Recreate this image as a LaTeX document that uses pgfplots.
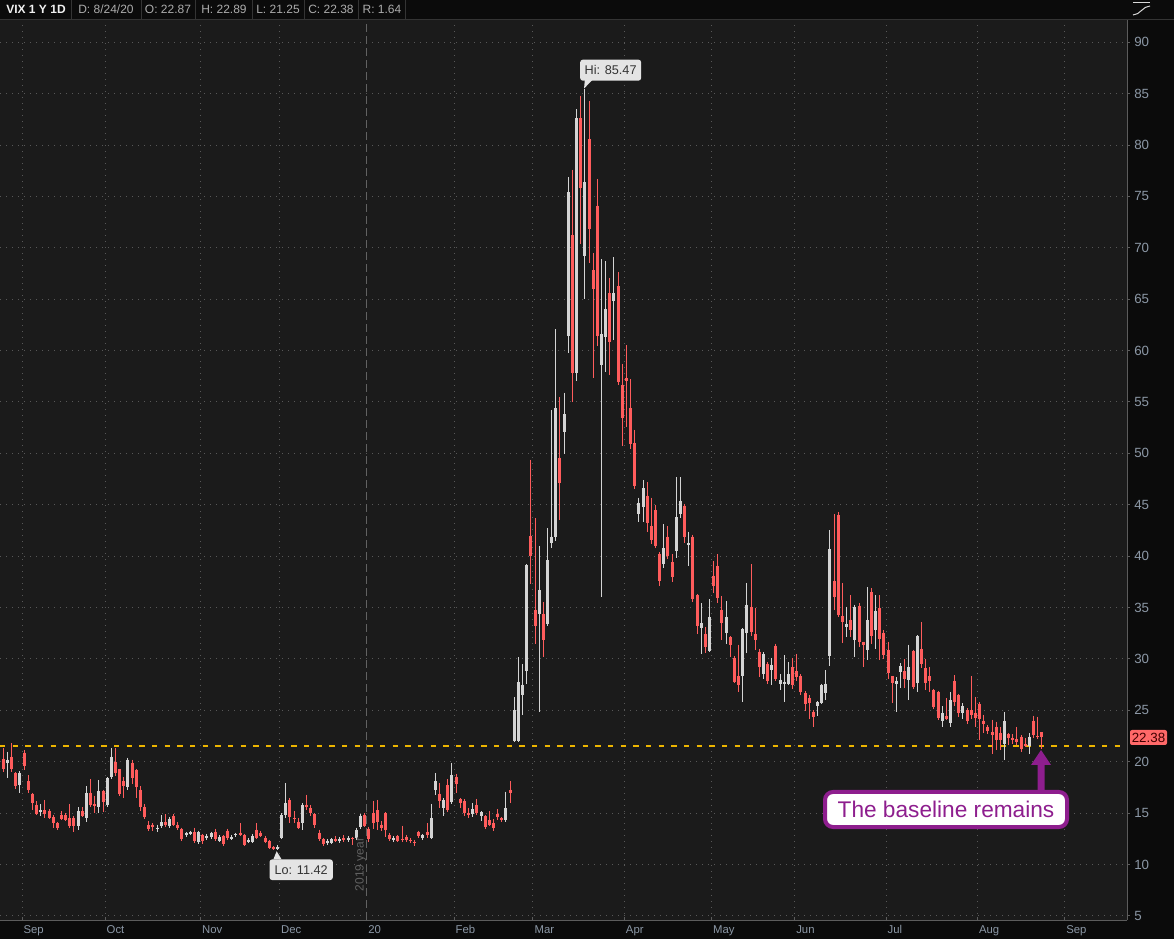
\documentclass[border=0pt]{standalone}
\usepackage{fontspec}
\setmainfont{Liberation Sans}
\usepackage{pgfplots}
\usepackage{pgfplotstable}
\pgfplotsset{compat=1.18}

\definecolor{outerbg}{RGB}{11,11,11}
\definecolor{plotbg}{RGB}{27,27,27}
\definecolor{gridc}{RGB}{88,88,88}
\definecolor{axisc}{RGB}{92,92,92}
\definecolor{upc}{RGB}{212,212,212}
\definecolor{dnc}{RGB}{255,92,92}
\definecolor{goldline}{rgb}{0.93,0.71,0.0}
\definecolor{tickc}{RGB}{140,152,166}
\definecolor{hdrtxt}{RGB}{172,172,172}
\definecolor{hdrline}{RGB}{52,52,52}
\definecolor{yearc}{RGB}{98,98,98}
\definecolor{purp}{RGB}{142,30,142}
\definecolor{callbg}{RGB}{228,228,228}

% VIX daily candles, trading-day index (0 = 3 Sep 2019, 245 = 24 Aug 2020)
\pgfplotstableread{
i o h l c
-5 20.3 21.3 19.0 19.3
-4 19.9 21.0 18.4 20.2
-3 20.5 21.8 19.0 19.3
-2 18.9 19.0 17.4 17.6
-1 17.7 19.1 17.0 18.9
0 20.9 21.1 19.2 19.6
1 18.1 18.7 17.0 17.3
2 16.9 17.0 15.3 16.0
3 15.8 16.2 14.8 14.9
4 15.1 15.9 14.7 15.3
5 15.3 16.3 14.5 14.9
6 15.2 15.4 14.4 14.5
7 14.6 14.8 13.6 14.0
8 14.0 14.1 13.4 13.6
9 14.8 15.2 14.3 14.4
10 14.8 15.0 14.2 14.3
11 14.5 15.9 13.6 13.8
12 14.5 14.7 13.2 13.8
13 13.8 15.6 13.4 15.2
14 15.2 15.6 14.6 14.7
15 14.5 17.6 14.1 17.0
16 17.0 18.3 15.6 15.8
17 15.9 16.7 15.0 15.7
18 15.6 18.2 15.0 17.2
19 17.2 17.3 15.1 16.1
20 15.8 18.5 15.6 18.4
21 18.5 21.3 18.3 20.5
22 20.0 21.3 18.6 18.9
23 19.3 19.3 16.7 16.9
24 18.1 18.5 16.5 17.6
25 17.5 20.4 17.3 20.2
26 19.9 20.2 17.8 18.4
27 19.2 19.3 16.5 17.5
28 17.3 17.6 15.2 15.6
29 15.6 15.9 14.4 14.6
30 13.9 14.2 13.3 13.5
31 13.9 14.0 13.3 13.7
32 13.5 13.9 13.2 13.6
33 13.8 14.8 13.6 14.1
34 14.1 14.9 13.7 13.9
35 13.8 14.6 13.6 14.4
36 14.7 14.9 13.8 13.9
37 13.9 14.1 13.4 13.6
38 13.5 13.6 12.3 12.5
39 12.9 13.2 12.7 13.1
40 13.0 13.3 12.9 13.2
41 13.2 13.6 12.1 12.3
42 12.2 13.3 12.0 13.2
43 12.9 13.0 12.0 12.3
44 12.6 13.0 12.4 12.8
45 12.7 13.2 12.5 13.1
46 13.2 13.5 12.3 12.5
47 12.3 12.9 12.2 12.7
48 12.8 12.9 11.8 12.0
49 13.3 13.5 12.4 12.6
50 12.5 12.9 12.4 12.7
51 12.9 13.1 12.7 13.0
52 13.1 14.0 12.8 12.9
53 12.9 13.0 11.8 11.9
54 12.2 12.6 12.1 12.4
55 12.2 13.0 12.1 12.8
56 13.4 14.0 12.5 12.6
57 13.1 13.3 12.7 12.8
58 12.6 12.8 12.1 12.2
59 12.3 12.4 11.5 11.6
60 11.7 11.8 11.42 11.5
61 11.5 11.9 11.42 11.7
62 12.6 15.0 12.5 14.8
63 14.8 17.9 14.5 16.0
64 16.3 16.5 14.0 14.6
65 14.5 15.2 14.0 14.4
66 14.1 14.5 13.5 13.6
67 14.0 16.0 13.4 15.8
68 15.8 16.8 15.3 15.6
69 15.5 15.8 14.7 15.0
70 14.9 15.0 13.6 13.9
71 13.1 13.4 12.3 12.5
72 12.5 12.6 11.8 12.0
73 12.1 12.5 11.9 12.3
74 12.1 12.6 12.0 12.5
75 12.5 12.8 12.2 12.3
76 12.3 12.7 12.1 12.5
77 12.6 12.9 12.2 12.4
78 12.4 12.8 12.2 12.6
79 12.6 12.7 11.9 12.5
80 12.6 13.6 12.4 13.4
81 13.7 14.9 13.5 14.7
82 14.8 15.0 13.7 13.8
83 13.5 13.7 12.2 12.5
84 15.0 16.2 13.5 14.0
85 15.3 16.3 13.4 14.1
86 13.9 14.2 13.3 13.6
87 15.0 15.1 12.7 13.4
88 12.9 13.1 12.3 12.5
89 12.4 12.8 12.2 12.6
90 12.8 12.9 12.2 12.3
91 12.5 13.8 12.2 12.4
92 12.7 12.9 12.2 12.4
93 12.4 12.6 12.1 12.3
94 12.2 12.4 11.8 12.1
95 13.2 13.3 12.6 12.8
96 12.6 13.0 12.4 12.9
97 13.2 14.0 12.6 12.9
98 12.6 15.9 12.5 14.5
99 17.3 18.9 16.8 18.1
100 16.9 17.9 15.5 16.2
101 15.5 16.5 14.7 16.3
102 17.7 18.3 15.1 15.3
103 16.1 19.9 15.9 18.7
104 18.5 18.8 17.0 17.8
105 16.4 16.5 15.5 16.0
106 16.2 16.4 14.7 15.0
107 15.0 15.5 14.5 14.8
108 14.9 16.0 14.6 15.4
109 15.8 16.4 14.8 15.0
110 14.7 15.2 14.2 15.1
111 14.7 14.8 13.5 13.7
112 14.3 15.2 13.8 13.9
113 14.0 14.4 13.3 13.6
114 14.9 15.4 14.3 14.6
115 14.5 14.6 14.1 14.3
116 14.3 17.1 14.1 15.5
117 17.3 18.1 16.0 17.0
118 22.0 26.3 21.9 25.0
119 22.0 30.2 21.9 27.8
120 26.5 29.5 24.6 27.5
121 28.8 39.2 27.6 39.1
122 42.0 49.4 37.3 40.0
123 34.8 43.7 31.5 33.2
124 34.4 41.0 24.8 36.7
125 34.4 35.5 30.2 31.8
126 33.4 42.7 33.2 39.6
127 41.3 54.2 40.8 41.9
128 41.9 62.1 41.5 54.4
129 49.6 55.5 43.5 47.1
130 52.1 55.9 49.9 53.8
131 61.4 76.9 59.8 75.4
132 71.2 77.6 55.0 57.8
133 57.8 83.5 57.0 82.6
134 82.6 84.8 70.4 75.8
135 69.2 85.47 65.0 76.4
136 80.6 84.3 68.5 71.8
137 67.8 69.5 57.3 66.0
138 74.1 76.7 60.4 61.4
139 58.6 68.9 36.0 61.6
140 61.3 68.7 57.9 64.0
141 65.6 67.1 57.6 60.8
142 64.8 69.1 61.0 65.6
143 66.3 67.6 56.7 56.9
144 56.7 58.7 50.7 53.4
145 57.3 60.5 52.6 57.0
146 54.4 57.2 50.4 50.9
147 51.0 52.3 46.5 46.8
148 44.1 45.7 43.3 45.2
149 44.8 47.4 43.3 46.6
150 45.9 47.2 42.4 43.2
151 42.9 45.7 41.2 41.6
152 44.5 45.0 40.8 41.0
153 40.2 40.4 37.1 37.6
154 39.2 43.1 38.9 40.8
155 41.9 42.9 39.7 40.0
156 39.4 40.2 37.5 38.0
157 40.5 47.7 39.8 43.8
158 44.1 47.7 43.7 45.4
159 44.9 45.1 41.3 41.9
160 41.1 42.4 39.0 41.3
161 41.9 42.1 35.5 35.8
162 36.2 36.3 32.4 33.2
163 33.0 35.4 30.5 33.5
164 32.4 33.1 30.6 31.2
165 30.8 35.8 30.7 34.1
166 38.1 39.5 36.4 37.1
167 39.0 40.2 35.4 35.9
168 34.8 36.1 31.8 33.5
169 32.5 35.6 31.5 34.1
170 32.1 32.2 30.2 31.4
171 30.1 30.3 27.7 27.8
172 28.3 31.4 26.8 27.5
173 28.3 33.0 25.8 32.9
174 32.5 37.4 30.6 35.3
175 35.1 39.2 32.2 32.6
176 32.4 35.0 30.9 31.8
177 30.7 31.0 28.2 29.2
178 28.5 30.7 28.1 30.5
179 29.5 29.7 27.6 27.9
180 28.9 30.1 27.5 29.4
181 31.3 31.5 27.9 28.1
182 27.6 28.5 27.0 28.0
183 27.6 30.4 25.8 27.8
184 27.6 29.7 27.5 28.5
185 29.2 30.1 27.1 27.5
186 28.8 30.5 27.9 28.2
187 28.3 28.5 26.5 26.8
188 26.7 26.9 24.9 25.6
189 26.2 26.5 24.2 25.7
190 24.8 25.0 23.4 24.4
191 25.4 25.9 24.5 25.8
192 25.7 27.6 25.6 27.5
193 26.7 28.9 26.0 27.6
194 30.3 42.5 29.3 40.7
195 37.6 44.1 34.8 36.0
196 44.0 44.3 34.1 34.3
197 34.2 37.4 31.6 33.6
198 33.1 35.1 32.1 33.4
199 33.8 36.2 32.1 32.8
200 31.8 35.3 30.2 35.1
201 35.2 35.4 31.2 31.7
202 31.7 31.7 29.2 31.4
203 30.9 37.0 29.9 33.8
204 36.5 36.9 31.5 32.2
205 32.8 36.2 31.0 34.7
206 35.0 36.2 29.9 31.9
207 32.5 32.8 30.0 30.4
208 30.9 31.7 28.1 28.6
209 28.3 28.3 25.7 27.7
210 27.6 28.2 24.8 27.9
211 28.7 29.6 27.2 29.3
212 28.8 30.0 27.2 28.1
213 28.0 31.4 26.0 29.2
214 30.8 30.9 27.1 27.3
215 27.7 32.3 26.8 32.2
216 31.0 33.6 29.1 29.5
217 29.1 30.0 27.0 27.7
218 28.3 29.2 26.8 27.9
219 27.0 27.1 25.1 25.3
220 26.8 26.9 24.1 24.3
221 24.0 25.4 23.4 24.7
222 24.5 26.2 24.1 24.2
223 23.8 26.8 23.4 26.0
224 27.9 28.4 25.4 25.8
225 26.5 26.6 24.4 24.7
226 24.7 25.7 24.2 25.4
227 25.0 25.2 23.7 24.0
228 25.0 28.3 24.2 24.6
229 24.7 26.3 23.4 24.3
230 25.6 25.8 22.1 24.2
231 24.0 24.6 22.8 23.7
232 23.4 23.6 22.7 23.0
233 22.9 24.1 20.8 22.6
234 23.4 23.9 21.1 22.1
235 22.8 23.4 21.1 22.1
236 21.7 24.8 20.2 24.0
237 22.7 22.8 21.6 22.3
238 22.3 22.7 21.7 22.1
239 22.2 23.4 21.6 21.9
240 22.4 22.6 21.0 21.2
241 21.7 22.3 21.4 21.5
242 21.5 22.8 20.8 22.4
243 24.0 24.5 22.3 22.6
244 22.5 24.4 22.2 22.4
245 22.87 22.89 21.25 22.38
}\vix

\begin{document}
\begin{tikzpicture}
\useasboundingbox (0,0) rectangle (880.5pt,704.25pt);
\fill[outerbg] (0,0) rectangle (880.5pt,704.25pt);

\begin{axis}[
  at={(0pt,14.25pt)}, anchor=south west,
  width=845.25pt, height=675pt, scale only axis,
  xmin=-5.8, xmax=265.5, ymin=4.61, ymax=92.16,
  axis background/.style={fill=plotbg},
  axis x line*=bottom, axis y line*=right,
  axis line style={draw=axisc, line width=0.75pt, -},
  xtick={-0.5,19.5,42.5,61.5,82.5,103.5,122.5,144.5,165.5,185.5,207.5,229.5,250.5},
  xticklabels={Sep,Oct,Nov,Dec,20,Feb,Mar,Apr,May,Jun,Jul,Aug,Sep},
  ytick={5,10,...,90},
  tick style={draw=axisc, line width=0.75pt},
  xtick align=inside, ytick align=outside,
  major tick length=2.25pt,
  xmajorgrids, ymajorgrids,
  major grid style={draw=gridc, line width=0.75pt, dash pattern=on 0.75pt off 3.75pt},
  xticklabel style={font=\fontsize{8.5}{10}\selectfont, text=tickc, anchor=north west, inner sep=0pt, yshift=-4pt, xshift=1pt},
  yticklabel style={font=\fontsize{10}{12}\selectfont, text=tickc, anchor=west, inner sep=0pt, xshift=3pt},
  /pgf/number format/assume math mode=true,
]
% baseline level (drawn first, under the candles)
\addplot[color=goldline, line width=1pt, dash pattern=on 4pt off 5.5pt, mark=none, forget plot]
  coordinates {(-5.8,21.55) (265.5,21.55)};

% wicks
\addplot[draw=none, mark=none, forget plot,
  restrict expr to domain={\thisrow{c}-\thisrow{o}}{0:1000},
  error bars/.cd, y dir=minus, y explicit, error mark=none,
  error bar style={draw=upc, line width=0.75pt}]
  table[x=i, y=h, y error minus expr=\thisrow{h}-\thisrow{l}] {\vix};
\addplot[draw=none, mark=none, forget plot,
  restrict expr to domain={\thisrow{o}-\thisrow{c}}{0.0001:1000},
  error bars/.cd, y dir=minus, y explicit, error mark=none,
  error bar style={draw=dnc, line width=0.75pt}]
  table[x=i, y=h, y error minus expr=\thisrow{h}-\thisrow{l}] {\vix};
% bodies
\addplot[draw=none, mark=none, forget plot,
  restrict expr to domain={\thisrow{c}-\thisrow{o}}{0:1000},
  error bars/.cd, y dir=minus, y explicit, error mark=none,
  error bar style={draw=upc, line width=2.25pt}]
  table[x=i, y=c, y error minus expr={max(\thisrow{c}-\thisrow{o},0.1)}] {\vix};
\addplot[draw=none, mark=none, forget plot,
  restrict expr to domain={\thisrow{o}-\thisrow{c}}{0.0001:1000},
  error bars/.cd, y dir=minus, y explicit, error mark=none,
  error bar style={draw=dnc, line width=2.25pt}]
  table[x=i, y=o, y error minus expr={max(\thisrow{o}-\thisrow{c},0.1)}] {\vix};

% year separator
\draw[yearc, line width=0.75pt, dash pattern=on 6pt off 3pt] (axis cs:82.5,4.61) -- (axis cs:82.5,92.16);
\node[rotate=90, text=yearc, font=\fontsize{9}{10}\selectfont] at (axis cs:81.0,10.0) {2019 year};

% Hi / Lo callouts
\fill[callbg] (axis cs:135.0,86.4) -- (axis cs:137.0,86.4) -- (axis cs:134.8,85.5) -- cycle;
\node[fill=callbg, rounded corners=2pt, text=black!80, font=\fontsize{9.5}{11}\selectfont,
  minimum width=45.75pt, minimum height=15.75pt, inner sep=0pt] at (axis cs:141.2,87.28) {Hi: 85.47};
\fill[callbg] (axis cs:60.0,10.5) -- (axis cs:62.0,10.5) -- (axis cs:60.8,11.3) -- cycle;
\node[fill=callbg, rounded corners=2pt, text=black!80, font=\fontsize{9.5}{11}\selectfont,
  minimum width=47.5pt, minimum height=15.5pt, inner sep=0pt] at (axis cs:66.7,9.5) {Lo: 11.42};
\end{axis}

% pixel-unit overlay: header, price tag, annotation
\begin{scope}[x=0.75pt, y=-0.75pt, yshift=704.25pt]
  \draw[hdrline, line width=0.75pt] (0,19.5) -- (1174,19.5);
  \foreach \sx in {71,141.6,195,252.6,304,358.6,405.7}
    \draw[hdrline, line width=0.75pt] (\sx,0) -- (\sx,19.5);
  \node[text=white!94!black, font=\bfseries\fontsize{9}{10}\selectfont] at (36,9.5) {VIX 1 Y 1D};
  \begin{scope}[every node/.style={text=hdrtxt, font=\fontsize{9}{10}\selectfont}]
    \node at (106,9.5) {D: 8/24/20};
    \node at (168,9.5) {O: 22.87};
    \node at (224,9.5) {H: 22.89};
    \node at (278,9.5) {L: 21.25};
    \node at (331,9.5) {C: 22.38};
    \node at (382,9.5) {R: 1.64};
  \end{scope}
  % style icon
  \draw[white!85!black, line width=0.75pt] (1133,2.5) -- (1150,2.5);
  \draw[white!85!black, line width=0.75pt] (1133,15) .. controls (1140,15) and (1143,6) .. (1150,6);
  % last price tag
  \node[fill=dnc!92!white, rounded corners=1.5pt, text=black!75!red, font=\fontsize{10}{12}\selectfont,
    minimum width=27.75pt, minimum height=11.25pt, inner sep=0pt] at (1148.5,737.5) {22.38};
  % annotation arrow and box
  \fill[purp] (1037.5,795) -- (1037.5,765) -- (1031,765) -- (1041,750) -- (1051,765)
    -- (1044.5,765) -- (1044.5,795) -- cycle;
  \draw[purp, line width=3pt, fill=white, rounded corners=6pt] (825,792) rectangle (1067,827);
  \node[text=purp, font=\fontsize{17}{20}\selectfont] at (946,809.5) {The baseline remains};
\end{scope}
\end{tikzpicture}
\end{document}
